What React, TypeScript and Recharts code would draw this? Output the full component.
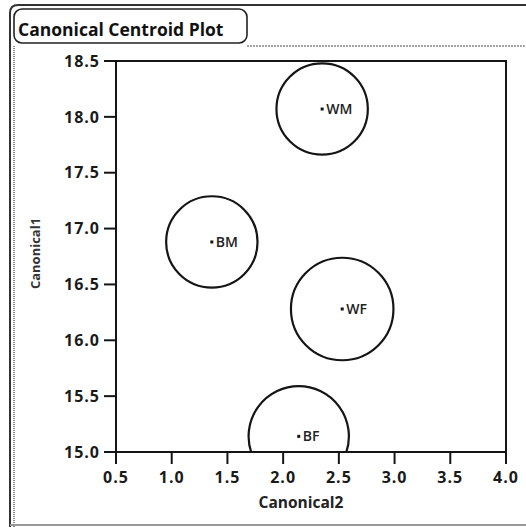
import React from 'react';
import { ScatterChart, Scatter, XAxis, YAxis, ReferenceArea } from 'recharts';

// centroid per group, radius is the confidence circle in canonical units
const groups = ['WM', 'BM', 'WF', 'BF'];
const canonical2 = [2.35, 1.36, 2.53, 2.14];
const canonical1 = [18.07, 16.88, 16.28, 15.14];
const radii = [0.41, 0.41, 0.46, 0.45];

const xTicks = [0.5, 1.0, 1.5, 2.0, 2.5, 3.0, 3.5, 4.0];
const yTicks = [15.0, 15.5, 16.0, 16.5, 17.0, 17.5, 18.0, 18.5];

const W = 526;
const H = 527;
const MARGIN = { top: 61, right: 20, bottom: 25, left: 26 };
const Y_AXIS_W = 90;
const X_AXIS_H = 50;
const PLOT_W = W - MARGIN.left - MARGIN.right - Y_AXIS_W;
const PLOT_H = H - MARGIN.top - MARGIN.bottom - X_AXIS_H;
const PLOT_BOTTOM = MARGIN.top + PLOT_H;
const PX_PER_UNIT = PLOT_W / (xTicks[xTicks.length - 1] - xTicks[0]);

const FONT = '"Open Sans", "DejaVu Sans", sans-serif';
const INK = '#151515';

const data = groups.map((name, i) => ({
  name,
  c2: canonical2[i],
  c1: canonical1[i],
  r: radii[i],
}));

// circle cut off at the x axis, like the original plot window does
const ringPath = (cx: number, cy: number, r: number) => {
  if (cy + r <= PLOT_BOTTOM) {
    return `M${cx - r} ${cy} A${r} ${r} 0 1 1 ${cx + r} ${cy} A${r} ${r} 0 1 1 ${cx - r} ${cy}`;
  }
  const dy = PLOT_BOTTOM - cy;
  const dx = Math.sqrt(Math.max(r * r - dy * dy, 0));
  const large = dy > 0 ? 1 : 0;
  return `M${cx - dx} ${PLOT_BOTTOM} A${r} ${r} 0 ${large} 1 ${cx + dx} ${PLOT_BOTTOM}`;
};

const CentroidShape = (props: any) => {
  const { cx, cy, payload } = props;
  return (
    <g>
      <path d={ringPath(cx, cy, payload.r * PX_PER_UNIT)} fill="none" stroke={INK} strokeWidth={2.2} />
      <rect x={cx - 1.5} y={cy - 1.5} width={3} height={3} fill={INK} />
      <text
        x={cx + 4}
        y={cy}
        dy="0.36em"
        fontFamily={FONT}
        fontWeight={600}
        fontSize={14}
        fill="#222"
      >
        {payload.name}
      </text>
    </g>
  );
};

const YLabel = (props: any) => {
  const { x, y, height } = props.viewBox;
  const lx = x + 9;
  const ly = y + height / 2 - 3;
  return (
    <text
      x={lx}
      y={ly}
      transform={`rotate(-90 ${lx} ${ly})`}
      textAnchor="middle"
      dominantBaseline="central"
      fontFamily={FONT}
      fontWeight={700}
      fontSize={13}
      fill="#333"
    >
      Canonical1
    </text>
  );
};

const XLabel = (props: any) => {
  const { x, width } = props.viewBox;
  return (
    <text
      x={x + width / 2 - 10}
      y={508}
      textAnchor="middle"
      fontFamily={FONT}
      fontWeight={700}
      fontSize={15.5}
      fill="#222"
    >
      Canonical2
    </text>
  );
};

const Frame = () => (
  <svg width={W} height={H} style={{ position: 'absolute', left: 0, top: 0 }}>
    <path d={`M10 ${H} L10 13 Q10 5 18 5 L${W} 5`} fill="none" stroke="#333" strokeWidth={2} />
    <line x1={14} y1={46} x2={14} y2={H} stroke="#888" strokeWidth={2} strokeDasharray="1 1" />
    <line x1={247} y1={46} x2={W} y2={46} stroke="#888" strokeWidth={1.5} strokeDasharray="2 1" />
    <line x1={10} y1={525} x2={W} y2={525} stroke="#999" strokeWidth={2} />
    <rect x={14} y={9} width={233} height={34} rx={8} fill="#fff" stroke="#222" strokeWidth={1.6} />
    <text x={18} y={36} fontFamily={FONT} fontWeight={700} fontSize={17.5} fill="#111">
      Canonical Centroid Plot
    </text>
  </svg>
);

export default function App() {
  const tickStyle = { fill: '#1a1a1a', fontSize: 16, fontFamily: FONT, fontWeight: 700, letterSpacing: 1 };
  return (
    <div style={{ position: 'absolute', left: 0, top: 0, width: W, height: H, background: '#fff' }}>
      <Frame />
      <div style={{ position: 'absolute', left: 0, top: 0 }}>
        <ScatterChart width={W} height={H} margin={MARGIN}>
          <ReferenceArea
            x1={xTicks[0]}
            x2={xTicks[xTicks.length - 1]}
            y1={yTicks[0]}
            y2={yTicks[yTicks.length - 1]}
            fill="none"
            stroke={INK}
            strokeWidth={2}
          />
          <XAxis
            type="number"
            dataKey="c2"
            domain={[xTicks[0], xTicks[xTicks.length - 1]]}
            ticks={xTicks}
            height={X_AXIS_H}
            tickFormatter={(v: number) => v.toFixed(1)}
            tick={tickStyle}
            tickSize={12}
            tickMargin={8}
            axisLine={{ stroke: INK, strokeWidth: 2 }}
            tickLine={{ stroke: INK, strokeWidth: 2 }}
            label={<XLabel />}
          />
          <YAxis
            type="number"
            dataKey="c1"
            domain={[yTicks[0], yTicks[yTicks.length - 1]]}
            ticks={yTicks}
            width={Y_AXIS_W}
            tickFormatter={(v: number) => v.toFixed(1)}
            tick={tickStyle}
            tickSize={12}
            tickMargin={4}
            axisLine={{ stroke: INK, strokeWidth: 2 }}
            tickLine={{ stroke: INK, strokeWidth: 2 }}
            label={<YLabel />}
          />
          <Scatter data={data} shape={<CentroidShape />} isAnimationActive={false} />
        </ScatterChart>
      </div>
    </div>
  );
}
